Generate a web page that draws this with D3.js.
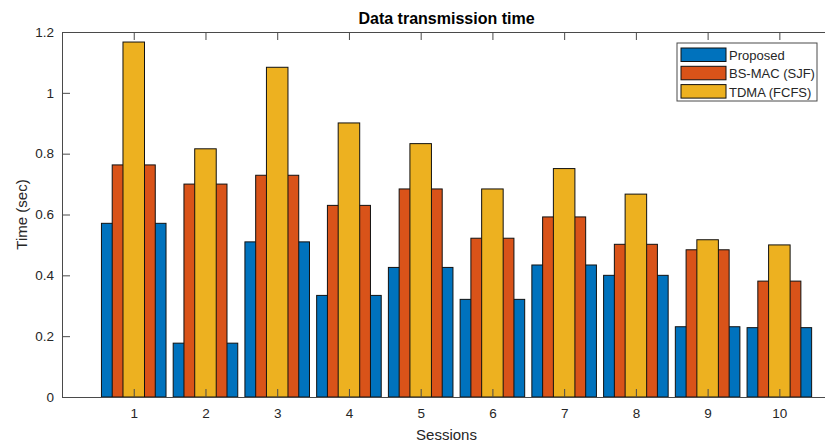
<!DOCTYPE html>
<html lang="en">
<head>
<meta charset="UTF-8">
<script src="https://d3js.org/d3.v7.min.js"></script>
<style>
  body { margin: 0; background: #fff; }
  text { font-family: "Liberation Sans", Arial, Helvetica, sans-serif; fill: #262626; }
</style>
</head>
<body>
<svg width="825" height="443" id="chart"></svg>
<script>
// chart data
const sessions = [1, 2, 3, 4, 5, 6, 7, 8, 9, 10];
const proposed = [0.571, 0.177, 0.510, 0.334, 0.426, 0.321, 0.434, 0.400, 0.231, 0.228];
const bsMac    = [0.763, 0.700, 0.729, 0.630, 0.684, 0.522, 0.592, 0.502, 0.484, 0.381];
const tdma     = [1.167, 0.816, 1.084, 0.901, 0.833, 0.684, 0.751, 0.667, 0.517, 0.500];
const seriesNames = ["Proposed", "BS-MAC (SJF)", "TDMA (FCFS)"];
const yTicks = [0, 0.2, 0.4, 0.6, 0.8, 1, 1.2];

const colors = ["#0072BD", "#D95319", "#EDB120"];
const barWidths = [0.9, 0.6, 0.3]; // fraction of one session step, drawn wide -> narrow

const svg = d3.select("#chart");
const margin = { left: 62, top: 32, right: 831, bottom: 397 };
const axisColor = "#4a4a4a";

const x = d3.scaleLinear().domain([0, 10.72]).range([margin.left, margin.right]);
const y = d3.scaleLinear().domain([0, 1.2]).range([margin.bottom, margin.top]);
const step = x(1) - x(0);

// bars, widest series at the back
const allSeries = [proposed, bsMac, tdma];
allSeries.forEach(function(vals, i) {
  svg.append("g").selectAll("rect")
    .data(vals)
    .enter().append("rect")
    .attr("x", (d, j) => x(sessions[j]) - barWidths[i] * step / 2)
    .attr("y", d => y(d))
    .attr("width", barWidths[i] * step)
    .attr("height", d => y(0) - y(d))
    .attr("fill", colors[i])
    .attr("stroke", "#111")
    .attr("stroke-width", 1);
});

// bottom axis
const xAxis = svg.append("g")
  .attr("transform", "translate(0," + margin.bottom + ")")
  .call(d3.axisBottom(x).tickValues(sessions).tickSize(-8).tickPadding(11).tickSizeOuter(0));
xAxis.selectAll("text").style("font-size", "13.5px");

// top axis (box)
svg.append("g")
  .attr("transform", "translate(0," + margin.top + ")")
  .call(d3.axisTop(x).tickValues(sessions).tickSize(-8).tickFormat("").tickSizeOuter(0));

// left axis
const yAxis = svg.append("g")
  .attr("transform", "translate(" + margin.left + ",0)")
  .call(d3.axisLeft(y).tickValues(yTicks).tickFormat(d3.format("~g")).tickSize(-8).tickPadding(8).tickSizeOuter(0));
yAxis.selectAll("text").style("font-size", "13.5px");

svg.selectAll(".domain, .tick line").attr("stroke", axisColor);
svg.selectAll(".tick text").attr("fill", "#262626");

// title and labels
const midX = (margin.left + margin.right) / 2;
svg.append("text")
  .attr("x", midX).attr("y", 24)
  .attr("text-anchor", "middle")
  .style("font-size", "16px").style("font-weight", "bold")
  .style("fill", "#000")
  .text("Data transmission time");

svg.append("text")
  .attr("x", midX).attr("y", 440)
  .attr("text-anchor", "middle")
  .style("font-size", "15px")
  .text("Sessions");

svg.append("text")
  .attr("transform", "translate(27," + ((margin.top + margin.bottom) / 2) + ") rotate(-90)")
  .attr("text-anchor", "middle")
  .style("font-size", "15px")
  .text("Time (sec)");

// legend
const legend = svg.append("g").attr("transform", "translate(677,43)");
legend.append("rect")
  .attr("width", 140).attr("height", 58)
  .attr("fill", "#fff").attr("stroke", axisColor).attr("stroke-width", 1);
seriesNames.forEach(function(name, i) {
  legend.append("rect")
    .attr("x", 4).attr("y", 5 + i * 18.3)
    .attr("width", 45).attr("height", 13.5)
    .attr("fill", colors[i]).attr("stroke", "#111").attr("stroke-width", 1);
  legend.append("text")
    .attr("x", 52).attr("y", 17 + i * 18.3)
    .style("font-size", "13px")
    .text(name);
});
</script>
</body>
</html>
